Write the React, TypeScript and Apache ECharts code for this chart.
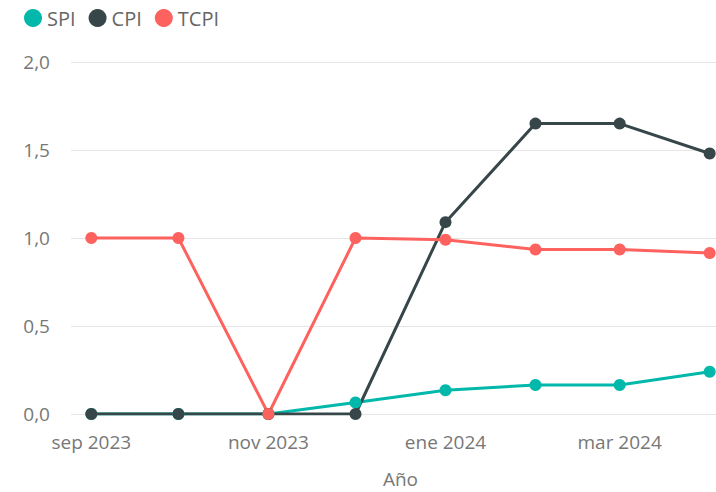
import React, { useEffect, useRef } from "react";
import * as echarts from "echarts";

const months = ["2023-09", "2023-10", "2023-11", "2023-12", "2024-01", "2024-02", "2024-03", "2024-04"];
const spi = [0, 0, 0, 0.065, 0.135, 0.165, 0.165, 0.24];
const cpi = [0, 0, 0, 0, 1.09, 1.65, 1.65, 1.48];
const tcpi = [1.0, 1.0, 0, 1.0, 0.99, 0.935, 0.935, 0.915];
const labelMonths = ["2023-09", "2023-11", "2024-01", "2024-03"];
const monthNames = ["ene", "feb", "mar", "abr", "may", "jun", "jul", "ago", "sep", "oct", "nov", "dic"];

const DAY = 86400000;
const toDay = (s: string) => {
  const [y, m] = s.split("-").map(Number);
  return Date.UTC(y, m - 1, 1) / DAY;
};

export default function App() {
  const ref = useRef<HTMLDivElement>(null);
  useEffect(() => {
    document.body.style.margin = "0";
    const chart = echarts.init(ref.current!, null, { renderer: "svg" });
    const font = "Open Sans";
    const mk = (name: string, vals: number[], color: string) => ({
      name,
      type: "line",
      data: months.map((m, i) => [toDay(m), vals[i]]),
      symbol: "circle",
      symbolSize: 12,
      lineStyle: { width: 3, color },
      itemStyle: { color },
      color,
    });
    chart.setOption({
      animation: false,
      legend: {
        left: 19,
        top: 3,
        icon: "circle",
        itemWidth: 18,
        itemHeight: 18,
        itemGap: 13,
        textStyle: { fontFamily: font, fontSize: 20, color: "#666666" },
        data: ["SPI", "CPI", "TCPI"],
      },
      grid: {
        left: 71,
        top: 62,
        width: 659,
        height: 352,
        containLabel: false,
        outerBoundsMode: "none",
      },
      xAxis: {
        type: "value",
        min: toDay(months[0]) - 7,
        max: toDay(months[months.length - 1]) + 7,
        name: "Año",
        nameLocation: "middle",
        nameGap: 55,
        nameTextStyle: { fontFamily: font, fontSize: 19, color: "#777777" },
        axisLine: { show: false },
        axisTick: { show: false },
        splitLine: { show: false },
        axisLabel: {
          customValues: labelMonths.map(toDay),
          fontFamily: font,
          fontSize: 19,
          color: "#777777",
          margin: 18,
          formatter: (v: number) => {
            const d = new Date(v * DAY);
            return `${monthNames[d.getUTCMonth()]} ${d.getUTCFullYear()}`;
          },
        },
      },
      yAxis: {
        type: "value",
        min: 0,
        max: 2,
        interval: 0.5,
        axisLine: { show: false },
        axisTick: { show: false },
        splitLine: { lineStyle: { color: "#e6e6e6", width: 1 } },
        axisLabel: {
          fontFamily: font,
          fontSize: 19,
          color: "#777777",
          margin: 21,
          formatter: (v: number) => v.toFixed(1).replace(".", ","),
        },
      },
      series: [mk("SPI", spi, "#01B8AA"), mk("CPI", cpi, "#374649"), mk("TCPI", tcpi, "#FD625E")],
    });
    return () => chart.dispose();
  }, []);
  return (
    <div style={{ width: 716, height: 492, overflow: "hidden", position: "relative" }}>
      <div ref={ref} style={{ width: 740, height: 492 }} />
    </div>
  );
}
